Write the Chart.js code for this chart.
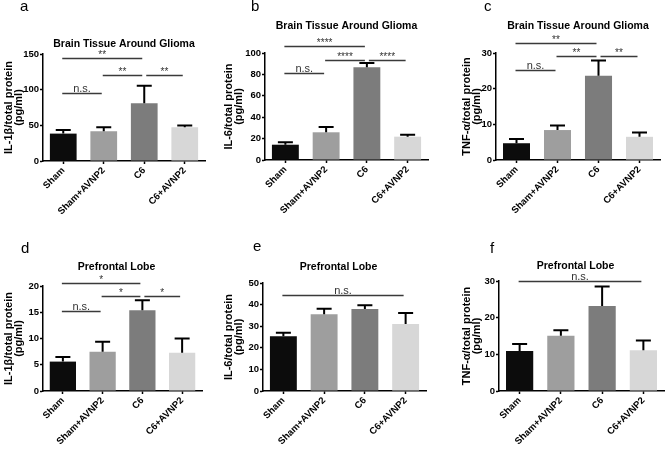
<!DOCTYPE html>
<html>
<head>
<meta charset="utf-8">
<script src="https://cdn.jsdelivr.net/npm/chart.js@4"></script>
<style>
  body { margin: 0; background: #fff; }
  #wrap { position: relative; width: 670px; height: 449px; }
  canvas { position: absolute; }
</style>
</head>
<body>
<div id="wrap">
  <canvas id="pa" width="222" height="224" style="left:0;top:0"></canvas>
  <canvas id="pb" width="222" height="224" style="left:222px;top:0"></canvas>
  <canvas id="pc" width="226" height="224" style="left:444px;top:0"></canvas>
  <canvas id="pd" width="222" height="225" style="left:0;top:224px"></canvas>
  <canvas id="pe" width="222" height="225" style="left:222px;top:224px"></canvas>
  <canvas id="pf" width="226" height="225" style="left:444px;top:224px"></canvas>
</div>
<script>
const groups = ['Sham', 'Sham+AVNP2', 'C6', 'C6+AVNP2'];
const barColors = ['#0c0c0c', '#9e9e9e', '#7c7c7c', '#d7d7d7'];

// brain tissue around glioma
const il1bBrain = [38.4, 41.7, 81, 47.3];
const il1bBrainSem = [5.2, 5.6, 24.5, 2.4];
const il1bBrainSig = [[0, 2, 144, '**'], [1, 2, 120, '**'], [2, 3, 120, '**'], [0, 1, 95.6, 'n.s.']];

const il6Brain = [14.3, 25.9, 86.6, 21.8];
const il6BrainSem = [2.2, 4.9, 4.1, 1.9];
const il6BrainSig = [[0, 2, 107, '****'], [1, 2, 93.7, '****'], [2, 3, 93.7, '****'], [0, 1, 81, 'n.s.']];

const tnfBrain = [4.7, 8.4, 23.6, 6.5];
const tnfBrainSem = [1.2, 1.3, 4.3, 1.2];
const tnfBrainSig = [[0, 2, 32.8, '**'], [1, 2, 29.2, '**'], [2, 3, 29.2, '**'], [0, 1, 25.1, 'n.s.']];

// prefrontal lobe
const il1bPfc = [5.6, 7.5, 15.4, 7.3];
const il1bPfcSem = [0.9, 1.9, 1.9, 2.7];
const il1bPfcSig = [[0, 2, 20.5, '*'], [1, 2, 18.1, '*'], [2, 3, 18.1, '*'], [0, 1, 15.3, 'n.s.']];

const il6Pfc = [25.4, 35.5, 38.0, 31.0];
const il6PfcSem = [1.6, 2.6, 1.7, 5.1];
const il6PfcSig = [[0, 3, 44.6, 'n.s.']];

const tnfPfc = [10.9, 15.1, 23.2, 11.1];
const tnfPfcSem = [1.9, 1.5, 5.3, 2.7];
const tnfPfcSig = [[0, 3, 30, 'n.s.']];

const FONT = '"Liberation Sans", Arial, sans-serif';

const panels = [
  { id: 'pa', letter: 'a', letterX: 20, letterY: 11, title: 'Brain Tissue Around Glioma', titleY: 47, titleShift: 0,
    yTitle: ['IL-1β/total protein', '(pg/ml)'], yTitlePad: 4, max: 150, step: 50,
    means: il1bBrain, sem: il1bBrainSem, sig: il1bBrainSig, area: { l: 43, r: 205, t: 54, b: 161 } },
  { id: 'pb', letter: 'b', letterX: 29, letterY: 11, title: 'Brain Tissue Around Glioma', titleY: 29, titleShift: 0,
    yTitle: ['IL-6/total protein', '(pg/ml)'], yTitlePad: 2, max: 100, step: 20,
    means: il6Brain, sem: il6BrainSem, sig: il6BrainSig, area: { l: 43, r: 206, t: 53, b: 160 } },
  { id: 'pc', letter: 'c', letterX: 40, letterY: 11, title: 'Brain Tissue Around Glioma', titleY: 29, titleShift: 0,
    yTitle: ['TNF-α/total protein', '(pg/ml)'], yTitlePad: 18, max: 30, step: 10,
    means: tnfBrain, sem: tnfBrainSem, sig: tnfBrainSig, area: { l: 52, r: 216, t: 53, b: 160 } },
  { id: 'pd', letter: 'd', letterX: 21, letterY: 29, title: 'Prefrontal Lobe', titleY: 46, titleShift: -6,
    yTitle: ['IL-1β/total protein', '(pg/ml)'], yTitlePad: 4, max: 20, step: 5,
    means: il1bPfc, sem: il1bPfcSem, sig: il1bPfcSig, area: { l: 43, r: 202, t: 62, b: 167 } },
  { id: 'pe', letter: 'e', letterX: 31, letterY: 27, title: 'Prefrontal Lobe', titleY: 46, titleShift: -6,
    yTitle: ['IL-6/total protein', '(pg/ml)'], yTitlePad: 2, max: 50, step: 10,
    means: il6Pfc, sem: il6PfcSem, sig: il6PfcSig, area: { l: 41, r: 204, t: 59, b: 167 } },
  { id: 'pf', letter: 'f', letterX: 46, letterY: 29, title: 'Prefrontal Lobe', titleY: 45, titleShift: -6,
    yTitle: ['TNF-α/total protein', '(pg/ml)'], yTitlePad: 18, max: 30, step: 10,
    means: tnfPfc, sem: tnfPfcSem, sig: tnfPfcSig, area: { l: 55, r: 220, t: 57, b: 167 } }
];

function makeExtras(p) {
  return {
    id: 'extras',
    afterDatasetsDraw(chart) {
      const ctx = chart.ctx;
      const y = chart.scales.y;
      const bars = chart.getDatasetMeta(0).data;
      ctx.save();
      // error bars (upper only)
      ctx.strokeStyle = '#000';
      ctx.lineWidth = 2;
      p.sem.forEach((e, i) => {
        const b = bars[i];
        const top = y.getPixelForValue(p.means[i] + e);
        ctx.beginPath();
        ctx.moveTo(b.x, b.y);
        ctx.lineTo(b.x, top);
        ctx.moveTo(b.x - 7.5, top);
        ctx.lineTo(b.x + 7.5, top);
        ctx.stroke();
      });
      // significance lines
      ctx.strokeStyle = '#3a3a3a';
      ctx.fillStyle = '#333';
      ctx.lineWidth = 1.3;
      ctx.textAlign = 'center';
      ctx.textBaseline = 'alphabetic';
      p.sig.forEach(([from, to, val, label]) => {
        const x1 = bars[from].x + (from === 2 ? 2 : -1);
        const x2 = bars[to].x - 2;
        const yy = Math.round(y.getPixelForValue(val)) + 0.5;
        ctx.beginPath();
        ctx.moveTo(x1, yy);
        ctx.lineTo(x2, yy);
        ctx.stroke();
        ctx.font = label === 'n.s.' ? '11px ' + FONT : '10px ' + FONT;
        ctx.fillText(label, (x1 + x2) / 2, yy - (label === 'n.s.' ? 2 : 1));
      });
      ctx.restore();
    },
    afterDraw(chart) {
      const ctx = chart.ctx;
      const a = chart.chartArea;
      ctx.save();
      ctx.fillStyle = '#000';
      ctx.textAlign = 'center';
      ctx.textBaseline = 'alphabetic';
      ctx.font = 'bold 10.5px ' + FONT;
      ctx.fillText(p.title, (a.left + a.right) / 2 + p.titleShift, p.titleY);
      ctx.textAlign = 'left';
      ctx.font = '15px ' + FONT;
      ctx.fillText(p.letter, p.letterX, p.letterY);
      ctx.restore();
    }
  };
}

panels.forEach(p => {
  const cv = document.getElementById(p.id);
  const W = cv.width, H = cv.height;
  new Chart(cv.getContext('2d'), {
    type: 'bar',
    data: {
      labels: groups,
      datasets: [{
        data: p.means,
        backgroundColor: barColors,
        borderWidth: 0,
        barPercentage: 0.66,
        categoryPercentage: 1
      }]
    },
    options: {
      responsive: false,
      animation: false,
      layout: { padding: { left: 0, top: p.area.t, right: W - p.area.r, bottom: 0 } },
      plugins: {
        legend: { display: false },
        tooltip: { enabled: false },
        title: { display: false }
      },
      scales: {
        x: {
          grid: { display: true, drawOnChartArea: false, offset: false, tickLength: 3, tickColor: '#000', tickWidth: 1.5 },
          border: { display: true, color: '#000', width: 1.5 },
          ticks: {
            minRotation: 45, maxRotation: 45, padding: 1, color: '#000',
            font: { family: FONT, size: 9.5, weight: 'bold' }
          },
          afterFit: s => { s.height = H - p.area.b; s.paddingLeft = 0; s.paddingRight = 0; }
        },
        y: {
          min: 0, max: p.max,
          grid: { display: true, drawOnChartArea: false, tickLength: 3, tickColor: '#000', tickWidth: 1.5 },
          border: { display: true, color: '#000', width: 1.5 },
          ticks: {
            stepSize: p.step, padding: 1, color: '#000',
            font: { family: FONT, size: 9.5, weight: 'bold' }
          },
          title: {
            display: true, text: p.yTitle, color: '#000',
            padding: { top: p.yTitlePad, bottom: 0 },
            font: { family: FONT, size: 11, weight: 'bold', lineHeight: 0.9 }
          },
          afterFit: s => { s.width = p.area.l; s.paddingTop = 0; s.paddingBottom = 0; }
        }
      }
    },
    plugins: [makeExtras(p)]
  });
});
</script>
</body>
</html>
